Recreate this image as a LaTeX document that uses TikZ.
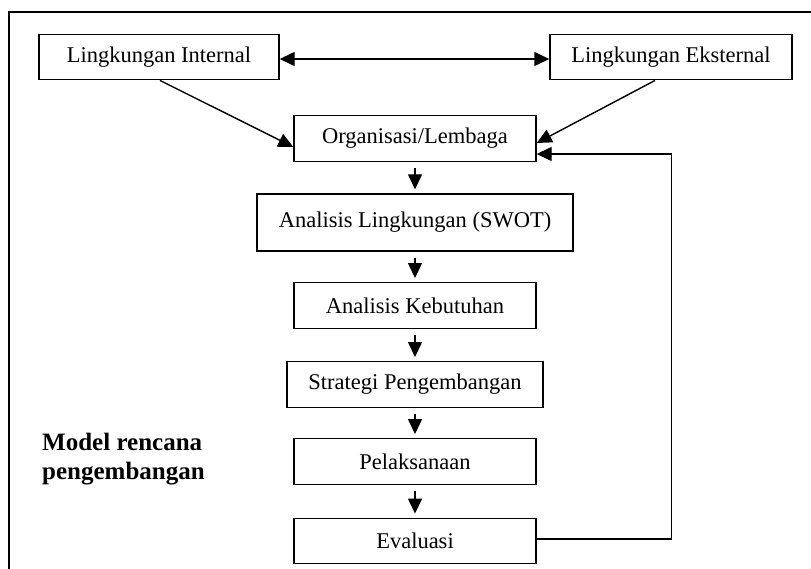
\documentclass[tikz,border=0pt]{standalone}
\usepackage{fontspec}
\setmainfont{Liberation Serif}
\usetikzlibrary{arrows.meta}
\begin{document}
\begin{tikzpicture}[x=1pt,y=-1pt,
  boxnode/.style={draw,line width=1.4pt,inner sep=0pt,minimum height=45.5pt,
    font=\fontsize{22.5}{27}\selectfont},
  arr/.style={line width=1.4pt,-{Triangle[length=15pt,width=14pt]}},
  darr/.style={line width=1.4pt,{Triangle[length=15pt,width=14pt]}-{Triangle[length=15pt,width=14pt]}},
  downarr/.style={arr,shorten <=6pt,shorten >=4pt}]
\useasboundingbox (0,0) rectangle (811,569);
\begin{scope}
\clip (0,0) rectangle (811,569);
\draw[line width=1.8pt] (9,580) -- (9,12) -- (820,12);
\end{scope}
\node[boxnode,minimum width=240pt] (intl) at (159,57) {Lingkungan Internal};
\node[boxnode,minimum width=242pt] (extl) at (671,57) {Lingkungan Eksternal};
\node[boxnode,minimum width=242pt] (org) at (415,138.5) {Organisasi/Lembaga};
\node[boxnode,minimum width=316pt,minimum height=57pt] (swot) at (415,222.5) {Analisis Lingkungan (SWOT)\vphantom{p}};
\node[boxnode,minimum width=242pt] (keb) at (415,305.5) {Analisis Kebutuhan};
\node[boxnode,minimum width=256pt] (strat) at (415,384.5) {Strategi Pengembangan};
\node[boxnode,minimum width=242pt] (pel) at (415,461.5) {Pelaksanaan};
\node[boxnode,minimum width=242pt] (eval) at (415,541) {Evaluasi};
\node[anchor=base west,align=left,font=\bfseries\fontsize{25}{29}\selectfont,inner sep=0pt] (title) at (42,479) {Model rencana\\pengembangan};
\draw[darr] ([yshift=-2pt]intl.east) -- ([yshift=-2pt]extl.west);
\draw[arr] ([xshift=1pt]intl.south) -- ([yshift=-8.5pt]org.west);
\draw[arr] ([xshift=-16pt]extl.south) -- ([yshift=-4.5pt]org.east);
\draw[arr] ([yshift=2pt]eval.east) -- ++(135,0) |- ([yshift=-15.5pt]org.east);
\draw[downarr] (org) -- (swot);
\draw[downarr] (swot) -- (keb);
\draw[downarr] (keb) -- (strat);
\draw[downarr] (strat) -- (pel);
\draw[downarr] (pel) -- (eval);
\end{tikzpicture}
\end{document}
